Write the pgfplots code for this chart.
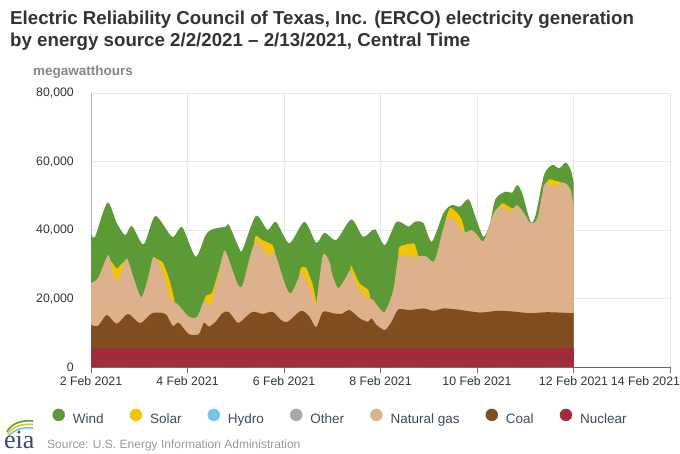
\documentclass[border=0pt]{standalone}
\usepackage{fontspec}
\setmainfont{Liberation Sans}
\newfontfamily\serifeia{Liberation Serif}
\usepackage{pgfplots}
\pgfplotsset{compat=1.18}
\usepackage{pgfplotstable}
\definecolor{windc}{HTML}{5B9A35}
\definecolor{solarc}{HTML}{F5C400}
\definecolor{hydroc}{HTML}{73C6E7}
\definecolor{otherc}{HTML}{A8A8A8}
\definecolor{gasc}{HTML}{DDB18C}
\definecolor{coalc}{HTML}{804E1E}
\definecolor{nucc}{HTML}{A02C3C}
\definecolor{titc}{HTML}{333333}
\definecolor{legc}{HTML}{3E4A5C}
\definecolor{gridc}{HTML}{E6E6E6}

% cumulative tops (days since 2 Feb 2021 00:00, MWh)
\pgfplotstableread{
d v
0.000 39000
0.083 38000
0.340 48000
0.535 42000
0.708 38500
0.848 41200
1.090 35800
1.333 44100
1.681 38000
1.890 40800
2.167 32200
2.375 38500
2.515 40200
2.792 41000
2.860 41500
3.069 34700
3.140 34200
3.417 44100
3.660 40000
3.833 42400
4.110 36100
4.423 42400
4.667 36300
4.840 39200
5.083 37100
5.396 43100
5.640 38000
5.881 40200
6.090 35600
6.333 42400
6.577 41000
6.715 42400
6.890 42000
7.063 36600
7.306 45000
7.479 47300
7.646 46800
7.827 49000
7.965 43900
8.135 38000
8.271 42000
8.381 49000
8.590 51200
8.729 50900
8.833 53100
8.938 50700
9.110 42400
9.215 44400
9.390 56100
9.563 59000
9.702 58000
9.840 59700
9.944 57500
10.000 54000
}\totaltop

\pgfplotstableread{
d v
0.000 24500
0.146 26000
0.354 32700
0.438 28500
0.535 24900
0.625 28000
0.744 31700
0.875 26400
1.042 20400
1.188 26400
1.298 32200
1.473 28300
1.563 24000
1.646 20000
1.813 18100
2.027 14700
2.202 14700
2.333 19100
2.438 18300
2.500 18800
2.604 24500
2.723 32200
2.792 33700
3.035 24400
3.140 23900
3.313 33200
3.417 36500
3.556 35000
3.694 32200
3.798 33700
4.042 23400
4.146 21500
4.271 25000
4.354 27500
4.458 25500
4.598 20500
4.667 18600
4.806 32700
4.944 30700
5.000 27000
5.125 23000
5.292 26400
5.375 28300
5.458 25500
5.563 22500
5.708 20500
5.848 19600
5.958 17500
6.090 16100
6.265 22500
6.369 32200
6.479 32500
6.604 32700
6.729 32000
6.854 32500
6.958 32200
7.098 30700
7.188 34000
7.271 39000
7.375 43300
7.479 43500
7.583 42000
7.688 39800
7.771 39300
7.875 40000
7.979 39000
8.125 36600
8.229 40000
8.348 45000
8.479 46800
8.583 46300
8.694 45300
8.771 46500
8.833 47300
8.973 44900
9.110 42000
9.250 43400
9.390 53000
9.494 53600
9.598 52600
9.735 53800
9.840 53600
9.944 51700
10.000 47000
}\gastop

\pgfplotstableread{
d v
0.000 12300
0.146 12000
0.327 15200
0.535 12600
0.765 15500
1.021 12800
1.265 15700
1.542 15500
1.694 12000
1.819 12900
2.027 9600
2.235 9600
2.340 12900
2.444 11800
2.583 13200
2.723 15700
2.854 16100
3.035 12900
3.140 13700
3.348 16100
3.556 15500
3.765 16100
3.938 13700
4.077 13200
4.354 16400
4.527 14700
4.667 11600
4.806 16100
5.015 15700
5.188 15500
5.360 16600
5.569 14200
5.744 13200
5.813 14200
5.917 12300
6.090 10800
6.229 13200
6.369 16800
6.610 16600
6.890 17100
7.098 16400
7.306 17100
7.583 16800
8.063 15900
8.417 16400
8.750 16200
9.104 15700
9.458 16000
10.000 15700
}\coaltop

\pgfplotstableread{
d v
0 5600
10 5600
}\nuctop

\begin{document}
\begin{tikzpicture}[x=1pt,y=1pt]
\useasboundingbox (0,0) rectangle (680,453);
\node[anchor=base west, inner sep=0pt, text=titc, font=\bfseries\fontsize{18.7}{22}\selectfont] at (10,428) {Electric Reliability Council of Texas, Inc. (ERCO) electricity generation};
\node[anchor=base west, inner sep=0pt, text=titc, font=\bfseries\fontsize{18.7}{22}\selectfont] at (10,406) {by energy source 2/2/2021 -- 2/13/2021, Central Time};
\node[anchor=base west, inner sep=0pt, text=black!47, font=\bfseries\fontsize{13.5}{16}\selectfont] at (33,377) {megawatthours};
\begin{axis}[
  at={(91pt,86pt)}, anchor=south west,
  scale only axis, width=579pt, height=274pt,
  xmin=0, xmax=12, ymin=0, ymax=80000,
  xtick={0,2,...,12},
  xticklabels={2 Feb 2021,4 Feb 2021,6 Feb 2021,8 Feb 2021,10 Feb 2021,12 Feb 2021,\llap{14 Feb 2021\hspace*{-10pt}}},
  ytick={0,20000,...,80000},
  scaled y ticks=false,
  /pgf/number format/.cd, 1000 sep={,}, assume math mode=true, /pgfplots/.cd,
  grid=major, major grid style={gridc, line width=0.8pt},
  axis x line*=bottom, axis y line*=left,
  x axis line style={black!60, line width=0.8pt, -},
  y axis line style={black!28, line width=0.8pt, -},
  xtick style={black!60, line width=0.8pt},
  xtick align=outside, major tick length=6pt,
  ytick style={draw=none},
  tick label style={font=\fontsize{12.3}{14}\selectfont, text=titc},
  yticklabel style={inner sep=0pt, xshift=-17pt},
  xticklabel style={inner sep=0pt, yshift=-3pt},
  legend columns=7,
  legend style={at={(0,0)}, anchor=west, xshift=-38.5pt, yshift=-50pt,
    draw=none, fill=none, inner sep=0pt, outer sep=0pt,
    font=\fontsize{13.5}{16}\selectfont, text=legc,
    nodes={inner sep=0pt},
    /tikz/every even column/.append style={column sep=26pt}},
  legend image code/.code={\fill[#1] (0pt,4.7pt) circle (6pt); \path (-6pt,0pt) (14pt,0pt);},
]
\addplot[fill=windc, draw=none, smooth, tension=0.45, forget plot] table[x=d,y=v] {\totaltop} \closedcycle;
\addplot[fill=solarc, draw=none, smooth, tension=0.45, forget plot] coordinates {(0.333,32400) (0.438,30500) (0.535,28800) (0.625,30000) (0.750,31500)} \closedcycle;
\addplot[fill=solarc, draw=none, smooth, tension=0.45, forget plot] coordinates {(1.292,32000) (1.473,30700) (1.563,28000) (1.646,24400) (1.729,19500)} \closedcycle;
\addplot[fill=solarc, draw=none, smooth, tension=0.45, forget plot] coordinates {(2.333,19000) (2.396,21000) (2.500,21500) (2.604,26000) (2.723,32000)} \closedcycle;
\addplot[fill=solarc, draw=none, smooth, tension=0.45, forget plot] coordinates {(3.375,35500) (3.417,38300) (3.556,37000) (3.694,36200) (3.771,35500) (3.813,33500)} \closedcycle;
\addplot[fill=solarc, draw=none, smooth, tension=0.45, forget plot] coordinates {(4.313,26500) (4.354,29000) (4.458,29000) (4.598,23900) (4.667,18800)} \closedcycle;
\addplot[fill=solarc, draw=none, smooth, tension=0.45, forget plot] coordinates {(5.375,28300) (5.396,29500) (5.563,24500) (5.744,22500) (5.792,19800)} \closedcycle;
\addplot[fill=solarc, draw=none, smooth, tension=0.45, forget plot] coordinates {(6.369,32000) (6.396,35100) (6.681,36100) (6.729,35000) (6.792,32000)} \closedcycle;
\addplot[fill=solarc, draw=none, smooth, tension=0.45, forget plot] coordinates {(7.333,42000) (7.438,46400) (7.583,45000) (7.688,42900) (7.750,39300)} \closedcycle;
\addplot[fill=solarc, draw=none, smooth, tension=0.45, forget plot] coordinates {(8.375,45500) (8.521,47800) (8.604,47300) (8.708,46500) (8.771,46400)} \closedcycle;
\addplot[fill=solarc, draw=none, smooth, tension=0.45, forget plot] coordinates {(9.375,52500) (9.494,54800) (9.598,54400) (9.688,54200) (9.771,53700)} \closedcycle;
\addplot[fill=gasc, draw=none, smooth, tension=0.45, forget plot] table[x=d,y=v] {\gastop} \closedcycle;
\addplot[fill=coalc, draw=none, smooth, tension=0.45, forget plot] table[x=d,y=v] {\coaltop} \closedcycle;
\addplot[fill=nucc, draw=none, forget plot] table[x=d,y=v] {\nuctop} \closedcycle;
\addlegendimage{windc}\addlegendentry{Wind}
\addlegendimage{solarc}\addlegendentry{Solar}
\addlegendimage{hydroc}\addlegendentry{Hydro}
\addlegendimage{otherc}\addlegendentry{Other}
\addlegendimage{gasc}\addlegendentry{Natural gas}
\addlegendimage{coalc}\addlegendentry{Coal}
\addlegendimage{nucc}\addlegendentry{Nuclear}
\end{axis}
% eia logo
\draw[hydroc, line width=1.6pt] (8,16.5) .. controls (14,24) and (24,26) .. (33,25);
\draw[solarc, line width=1.6pt] (7.5,19) .. controls (13,27) and (23,29.5) .. (33,28.5);
\draw[windc, line width=1.6pt] (7,21.5) .. controls (12,30) and (22,33) .. (33,32);
\node[anchor=base west, inner sep=0pt, text=legc, font=\serifeia\fontsize{26}{28}\selectfont] at (4,5) {eia};
\node[anchor=base west, inner sep=0pt, text=black!40, font=\fontsize{12}{14}\selectfont] at (47,5) {Source: U.S. Energy Information Administration};
\end{tikzpicture}
\end{document}
